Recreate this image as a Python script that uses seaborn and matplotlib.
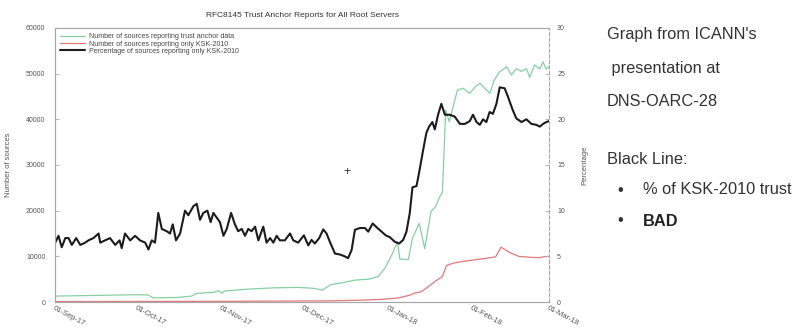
import numpy as np
import pandas as pd
import matplotlib
matplotlib.use("Agg")
import matplotlib.pyplot as plt
import matplotlib.dates as mdates
import seaborn as sns

START = pd.Timestamp("2017-09-01")

# Percentage of sources reporting only KSK-2010 (right axis)
pct_days = [0, 1.2, 2.4, 3.7, 4.9, 6.1, 7.7, 9.2, 11.0, 12.2, 14.0, 15.9, 16.5, 18.3,
            20.1, 22.0, 23.6, 24.4, 25.6, 27.5, 29.3, 31.1, 33.0, 34.2, 35.4, 36.6,
            37.8, 39.1, 40.9, 42.1, 43.1, 44.3, 45.8, 47.6, 48.8, 50.7, 51.9, 53.1,
            54.3, 55.8, 57.0, 58.0, 59.2, 60.4, 61.7, 62.9, 64.5, 65.9, 67.1, 68.4,
            69.6, 70.8, 72.0, 73.3, 74.5, 76.3, 77.5, 78.8, 80.0, 81.2, 82.4, 84.2,
            86.1, 87.3, 89.1, 91.2, 92.8, 94.0, 95.2, 96.8, 98.3, 99.5, 100.7, 102.6,
            104.4, 106.2, 107.4, 108.7, 109.9, 111.7, 113.6, 114.8, 116.4, 117.8,
            119.7, 121.2, 122.7, 124.5, 126.1, 127.6, 128.8, 130.0, 131.0, 132.5,
            133.4, 134.9, 136.1, 137.1, 138.3, 139.2, 140.4, 141.6, 142.9, 144.7,
            146.5, 148.4, 150.2, 152.0, 153.2, 154.5, 155.7, 156.9, 158.1, 159.3,
            160.5, 161.8, 163.0, 164.8, 166.0, 166.7, 167.8, 169.1, 171.0, 172.8,
            174.6, 176.4, 177.7, 178.9, 180.1, 181.0]
pct_only_2010 = [6.5, 7.25, 6.0, 7.0, 7.0, 6.25, 7.0, 6.25, 6.5, 6.75, 7.0, 7.5, 6.5, 6.75,
                 7.0, 6.25, 6.75, 5.9, 7.5, 6.75, 7.25, 6.75, 6.5, 5.75, 6.75, 6.5,
                 9.75, 8.0, 7.75, 7.5, 8.5, 6.75, 7.5, 10.0, 9.5, 10.5, 10.75, 9.0,
                 9.75, 10.0, 8.75, 9.75, 9.25, 8.75, 7.25, 8.0, 9.75, 8.5, 7.75, 8.0,
                 7.25, 8.0, 7.75, 8.25, 6.75, 8.25, 6.5, 7.0, 6.5, 7.25, 6.75, 6.75,
                 7.5, 6.75, 6.5, 7.3, 6.2, 6.8, 6.4, 7.0, 7.95, 7.5, 6.6, 5.3,
                 5.2, 5.0, 4.8, 5.7, 7.9, 8.1, 8.1, 7.7, 8.6, 8.2,
                 7.7, 7.3, 7.1, 6.6, 6.4, 6.8, 7.7, 9.7, 12.55, 12.7,
                 14.1, 16.6, 18.5, 19.2, 19.7, 18.9, 20.5, 21.7, 20.5, 20.5,
                 20.3, 19.5, 19.5, 19.8, 20.5, 19.7, 19.4, 20.0, 19.7, 20.8,
                 20.6, 21.7, 23.5, 23.4, 22.5, 21.9, 21.0, 20.1, 19.7, 20.0,
                 19.5, 19.4, 19.2, 19.5, 19.7, 19.8]

# Number of sources reporting trust anchor data (left axis)
ta_days = [0, 10, 20, 30, 34, 36, 45, 50, 52, 58, 60, 61, 62, 70, 80, 89, 95, 98, 101,
           105, 110, 115, 118.5, 121, 124, 125.5, 126.4, 129.5, 131, 133.5, 135.5,
           137.8, 139.5, 141, 142, 143.2, 144.5, 147.5, 149.5, 152, 154, 155.8, 157.5,
           159.4, 161, 163, 165.5, 167.3, 169.1, 171, 172.8, 174, 175.8, 177.7, 178.9,
           180, 181]
ta_sources = [1300, 1400, 1500, 1600, 1550, 900, 1000, 1300, 1900, 2100, 2500, 1900, 2400,
              2800, 3100, 3200, 3000, 2600, 3800, 4200, 4800, 5000, 5600, 7500, 11000,
              13200, 9400, 9300, 14000, 17200, 11700, 19800, 20900, 23000, 24000, 42000,
              39500, 46400, 46800, 45700, 47100, 47900, 46800, 45700, 48600, 50400,
              51500, 49700, 51100, 50500, 51100, 49200, 51900, 51000, 52600, 51000, 51500]

# Number of sources reporting only KSK-2010 (left axis)
ksk_days = [0, 60, 100, 112, 120, 126, 128, 130, 132, 134, 136, 139.5, 142, 143.5, 146,
            148.5, 153.5, 158.5, 161.5, 163.5, 166.5, 170, 174, 177.5, 179, 181]
ksk_sources = [100, 150, 250, 400, 600, 900, 1200, 1500, 2000, 2200, 3000, 4600, 5600,
               8000, 8500, 8800, 9200, 9600, 9900, 12000, 10900, 10000, 9800, 9700,
               9900, 10000]

tick_dates = ["2017-09-01", "2017-10-01", "2017-11-01", "2017-12-01",
              "2018-01-01", "2018-02-01", "2018-03-01"]
left_ticks = [0, 10000, 20000, 30000, 40000, 50000, 60000]
right_ticks = [0, 5, 10, 15, 20, 25, 30]

title = "RFC8145 Trust Anchor Reports for All Root Servers"
legend_labels = ["Number of sources reporting trust anchor data",
                 "Number of sources reporting only KSK-2010",
                 "Percentage of sources reporting only KSK-2010"]
notes = ["Graph from ICANN's", " presentation at", "DNS-OARC-28"]
bullet_heading = "Black Line:"
bullets = ["% of KSK-2010 trust", "BAD"]

def to_frame(days, values):
    return pd.DataFrame({"date": START + pd.to_timedelta(days, unit="D"), "value": values})

ta_df = to_frame(ta_days, ta_sources)
ksk_df = to_frame(ksk_days, ksk_sources)
pct_df = to_frame(pct_days, pct_only_2010)

sns.set_theme(style="white")
plt.rcParams["font.family"] = ["Liberation Sans", "DejaVu Sans"]

GREEN = "#86cfa3"
RED = "#e2787a"
BLACK = "#1c1c1c"
FRAME = "#a8a8a8"
TICKTXT = "#555555"

fig = plt.figure(figsize=(8.0, 3.29), dpi=100)
ax = fig.add_axes([0.069, 0.082, 0.617, 0.833])
ax2 = ax.twinx()

sns.lineplot(data=ta_df, x="date", y="value", ax=ax, color=GREEN, lw=0.9, label=legend_labels[0])
sns.lineplot(data=ksk_df, x="date", y="value", ax=ax, color=RED, lw=0.9, label=legend_labels[1])
sns.lineplot(data=pct_df, x="date", y="value", ax=ax2, color=BLACK, lw=1.5, label=legend_labels[2])

x0, x1 = pd.Timestamp(tick_dates[0]), pd.Timestamp(tick_dates[-1])
ax.set_xlim(x0, x1)
ax.set_ylim(0, 60000)
ax2.set_ylim(0, 30)

ax.set_xticks(pd.to_datetime(tick_dates))
ax.xaxis.set_major_formatter(mdates.DateFormatter("%d-%b-%y"))
ax.set_yticks(left_ticks)
ax2.set_yticks(right_ticks)

for a in (ax, ax2):
    for s in a.spines.values():
        s.set_color(FRAME)
        s.set_linewidth(0.8)
ax2.spines["right"].set_linestyle((0, (3, 2)))
ax.spines["right"].set_visible(False)

ax.tick_params(axis="y", which="major", length=3, width=0.6, color=FRAME,
               labelsize=5, labelcolor=TICKTXT, direction="in", pad=7)
ax.tick_params(axis="x", which="major", length=3, width=0.6, color=FRAME,
               labelsize=5.5, labelcolor=TICKTXT, direction="in", pad=2)
ax2.tick_params(axis="y", length=3, width=0.6, color=FRAME, labelsize=5,
                labelcolor=TICKTXT, direction="in", pad=6)
for lbl in ax.get_xticklabels():
    lbl.set_rotation(-28)
    lbl.set_ha("left")
    lbl.set_va("top")
    lbl.set_rotation_mode("anchor")

ax.set_xlabel("")
ax.set_ylabel("Number of sources", fontsize=5.5, color=TICKTXT, labelpad=10)
ax2.set_ylabel("Percentage", fontsize=5.5, color=TICKTXT, labelpad=12, rotation=90)
ax.set_title(title, fontsize=6, color="#333333", pad=8)

h1, l1 = ax.get_legend_handles_labels()
h2, l2 = ax2.get_legend_handles_labels()
if ax2.get_legend() is not None:
    ax2.get_legend().remove()
ax.legend(h1 + h2, l1 + l2, loc="upper left", bbox_to_anchor=(0.0, 1.0), frameon=False,
          fontsize=5, handlelength=3.6, handletextpad=0.5, labelspacing=0.05,
          borderaxespad=0.35, borderpad=0.4, labelcolor="#444444")

# cursor mark over the plot
fig.text(347 / 800, 1 - 172 / 329, "+", fontsize=9, color="#333333", ha="center", va="center")

# side notes
TXT = "#333333"
FS = 11.8
fig.text(607 / 800, 1 - 35 / 329, notes[0], fontsize=FS, color=TXT, va="center")
fig.text(607 / 800, 1 - 69 / 329, notes[1], fontsize=FS, color=TXT, va="center")
fig.text(607 / 800, 1 - 101 / 329, notes[2], fontsize=FS, color=TXT, va="center")
fig.text(607 / 800, 1 - 159 / 329, bullet_heading, fontsize=FS, color=TXT, va="center")
for i, (txt, y) in enumerate(zip(bullets, [190, 221])):
    fig.text(617 / 800, 1 - y / 329, "\u2022", fontsize=FS, color=TXT, va="center")
    fig.text(643 / 800, 1 - y / 329, txt, fontsize=FS, va="center",
             color="#222222" if i else TXT, fontweight="bold" if i else "normal")

fig.savefig("out.png", dpi=100)
